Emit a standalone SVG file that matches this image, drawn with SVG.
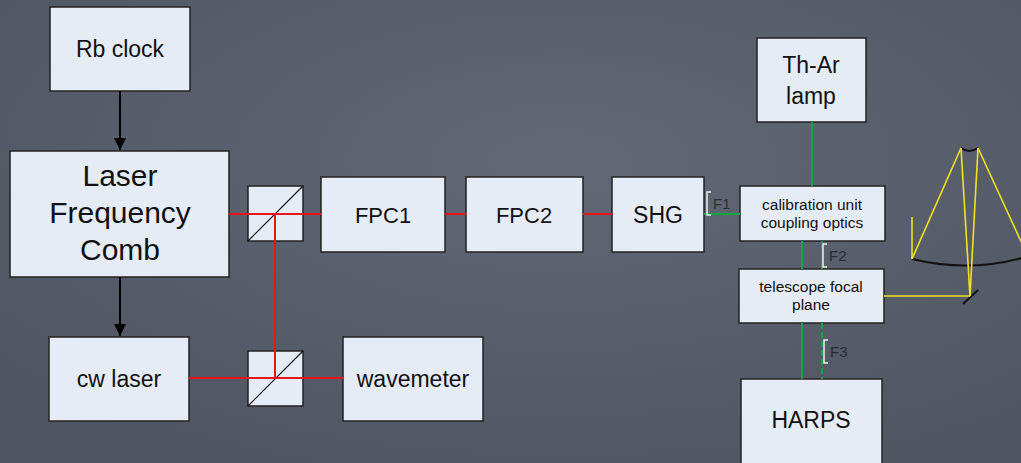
<svg xmlns="http://www.w3.org/2000/svg" width="1021" height="463" viewBox="0 0 1021 463">
  <defs>
    <radialGradient id="slate" cx="0.55" cy="0.35" r="0.75">
      <stop offset="0" stop-color="#626875"/>
      <stop offset="1" stop-color="#4f5461"/>
    </radialGradient>
    <marker id="arrow" viewBox="0 0 12 12" refX="12" refY="6" markerWidth="12" markerHeight="12" markerUnits="userSpaceOnUse" orient="auto">
      <path d="M0,0 L12,6 L0,12 Z" fill="#000"/>
    </marker>
    <style>
      .box { fill: #e6ecf6; stroke: #222; stroke-width: 1.5; }
      .lbl { font-family: "Liberation Sans", Arial, sans-serif; fill: #111; text-anchor: middle; }
      .flbl { font-family: "Liberation Sans", Arial, sans-serif; fill: #2a2d33; font-size: 15px; }
      .red { stroke: #e8141c; stroke-width: 2; fill: none; }
      .green { stroke: #12a640; stroke-width: 2; fill: none; }
      .yellow { stroke: #f0e21e; stroke-width: 1.6; fill: none; }
      .bracket { stroke: #eef0f2; stroke-width: 1.5; fill: none; }
      .ctrl { stroke: #000; stroke-width: 2; fill: none; }
    </style>
  </defs>

  <rect width="1021" height="463" fill="url(#slate)"/>

  <!-- telescope mirrors -->
  <g id="telescope">
    <path d="M912,259 Q970,273 1025,257" stroke="#111" stroke-width="2" fill="none"/>
    <path d="M961,148 Q969,154 978,148" stroke="#111" stroke-width="2" fill="none"/>
    <line x1="963" y1="304" x2="978" y2="290" stroke="#111" stroke-width="2"/>
  </g>

  <g id="rb-clock">
    <rect class="box" x="50" y="7" width="140" height="84"/>
    <text class="lbl" x="120" y="57" font-size="23">Rb clock</text>
  </g>

  <g id="laser-frequency-comb">
    <rect class="box" x="10" y="151" width="219" height="126"/>
    <text class="lbl" x="120" y="186" font-size="30">Laser</text>
    <text class="lbl" x="120" y="223" font-size="30">Frequency</text>
    <text class="lbl" x="120" y="260" font-size="30">Comb</text>
  </g>

  <g id="cw-laser">
    <rect class="box" x="49" y="337" width="140" height="84"/>
    <text class="lbl" x="119" y="387" font-size="23">cw laser</text>
  </g>

  <g id="beamsplitter-1">
    <rect class="box" x="248" y="186" width="55" height="55"/>
    <line x1="248" y1="241" x2="303" y2="186" stroke="#111" stroke-width="1.2"/>
  </g>

  <g id="beamsplitter-2">
    <rect class="box" x="248" y="351" width="55" height="55"/>
    <line x1="248" y1="406" x2="303" y2="351" stroke="#111" stroke-width="1.2"/>
  </g>

  <g id="fpc1">
    <rect class="box" x="321" y="177" width="124" height="75"/>
    <text class="lbl" x="383" y="223" font-size="22">FPC1</text>
  </g>

  <g id="fpc2">
    <rect class="box" x="466" y="177" width="117" height="75"/>
    <text class="lbl" x="524" y="223" font-size="22">FPC2</text>
  </g>

  <g id="shg">
    <rect class="box" x="612" y="177" width="92" height="75"/>
    <text class="lbl" x="658" y="223" font-size="23">SHG</text>
  </g>

  <g id="wavemeter">
    <rect class="box" x="343" y="337" width="140" height="84"/>
    <text class="lbl" x="413" y="387" font-size="23">wavemeter</text>
  </g>

  <g id="th-ar-lamp">
    <rect class="box" x="757" y="38" width="109" height="84"/>
    <text class="lbl" x="811" y="73" font-size="23">Th-Ar</text>
    <text class="lbl" x="811" y="104" font-size="23">lamp</text>
  </g>

  <g id="calibration-unit">
    <rect class="box" x="740" y="186" width="145" height="55"/>
    <text class="lbl" x="812" y="210" font-size="15.5">calibration unit</text>
    <text class="lbl" x="812" y="228" font-size="15.5">coupling optics</text>
  </g>

  <g id="telescope-focal-plane">
    <rect class="box" x="739" y="269" width="145" height="54"/>
    <text class="lbl" x="811" y="292" font-size="15.5">telescope focal</text>
    <text class="lbl" x="811" y="310" font-size="15.5">plane</text>
  </g>

  <g id="harps">
    <rect class="box" x="741" y="379" width="141" height="90"/>
    <text class="lbl" x="811" y="428" font-size="23">HARPS</text>
  </g>

  <!-- beam paths and signal links, drawn over the beamsplitter cubes -->
  <g id="connectors">
    <line class="ctrl" x1="120" y1="91" x2="120" y2="150" marker-end="url(#arrow)"/>
    <line class="ctrl" x1="120" y1="277" x2="120" y2="336" marker-end="url(#arrow)"/>

    <line class="red" x1="229" y1="214" x2="321" y2="214"/>
    <line class="red" x1="275" y1="214" x2="275" y2="378"/>
    <line class="red" x1="189" y1="378" x2="343" y2="378"/>
    <line class="red" x1="445" y1="214" x2="466" y2="214"/>
    <line class="red" x1="583" y1="214" x2="612" y2="214"/>

    <line class="green" x1="704" y1="214" x2="740" y2="214"/>
    <line class="green" x1="812" y1="122" x2="812" y2="186"/>
    <line class="green" x1="802" y1="241" x2="802" y2="269"/>
    <line class="green" x1="822" y1="241" x2="822" y2="269"/>
    <line class="green" x1="802" y1="323" x2="802" y2="379"/>
    <line class="green" x1="822" y1="323" x2="822" y2="379" stroke-dasharray="6,3"/>

    <!-- fibre labels -->
    <path class="bracket" d="M711,192 H707 V215 H711"/>
    <text class="flbl" x="713" y="209">F1</text>
    <path class="bracket" d="M827,244 H823 V267 H827"/>
    <text class="flbl" x="829" y="261">F2</text>
    <path class="bracket" d="M828,340 H824 V363 H828"/>
    <text class="flbl" x="830" y="357">F3</text>

    <!-- telescope light path -->
    <line class="yellow" x1="884" y1="296" x2="970" y2="296"/>
    <line class="yellow" x1="970" y1="296" x2="961" y2="148"/>
    <line class="yellow" x1="970" y1="296" x2="978" y2="148"/>
    <line class="yellow" x1="961" y1="148" x2="912" y2="259"/>
    <line class="yellow" x1="978" y1="148" x2="1025" y2="250"/>
    <line class="yellow" x1="912" y1="217" x2="912" y2="259"/>
  </g>
</svg>
